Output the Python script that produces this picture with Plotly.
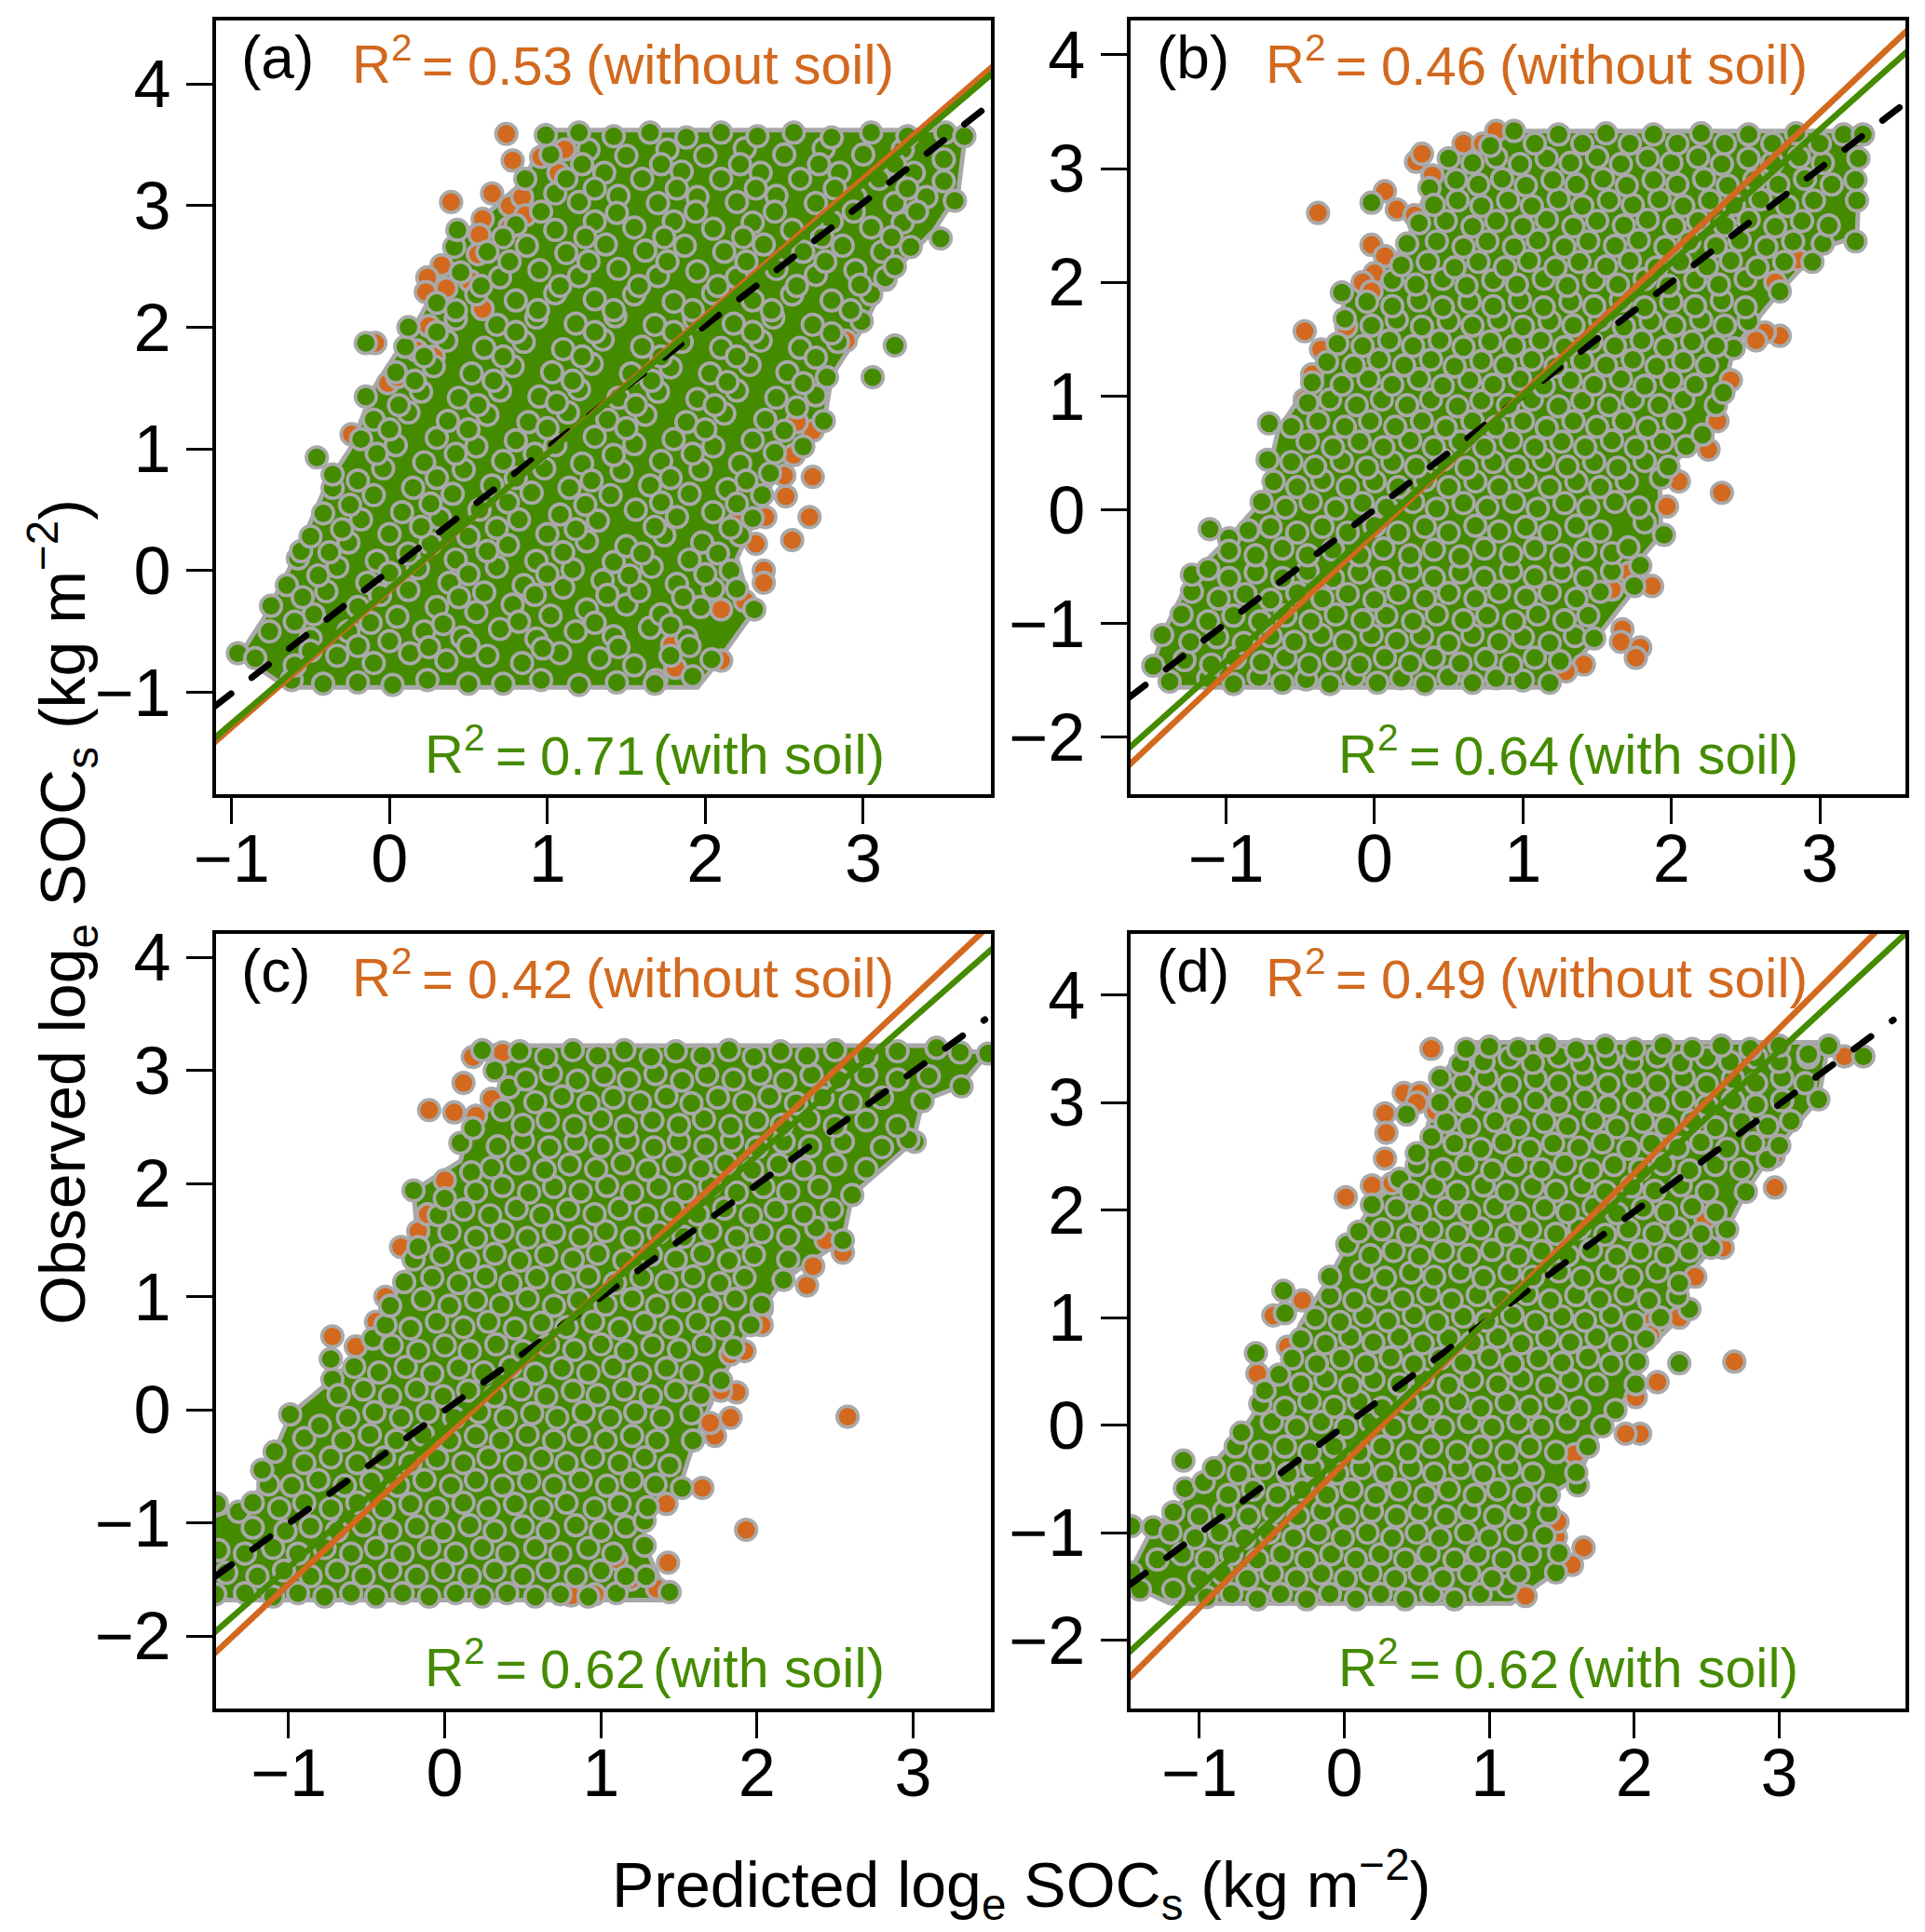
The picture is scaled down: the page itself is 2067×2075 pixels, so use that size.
import plotly.graph_objects as go

# ---------- values (predicted, observed) ----------
a_hull = [(-.65,-.96),(1.95,-.96),(2.05,-.8),(2.3,-.35),(2.2,.1),(2.45,.8),(2.75,1.2),(2.8,1.6),(3.0,2.0),(3.15,2.4),(3.45,2.8),(3.6,3.1),(3.65,3.62),(1.0,3.62),(.85,3.2),(.5,2.8),(.4,2.6),(.2,2.1),(-.1,1.5),(-.25,1.0),(-.4,.7),(-.6,.1),(-.8,-.4),(-.95,-.7)]
a_orange = [(.74,3.59),(.78,3.37),(.96,3.4),(1.11,3.46),(1.07,3.27),(.65,3.1),(.39,3.03),(.59,2.89),(.76,3.0),(.84,3.07),(.86,2.92),(.76,2.82),(.57,2.76),(.56,2.6),(.33,2.51),(.24,2.41),(.23,2.29),(.36,2.32),(.51,2.38),(.59,2.15),(.25,2.01),(-.09,1.87),(.17,1.81),(.28,1.76),(-.01,1.54),(.05,1.59),(-.24,1.12),(2.68,.77),(2.66,.44),(2.55,.25),(2.51,.61),(2.37,0),(2.37,-.1),(2.25,-.25),(2.32,.22),(2.38,.44),(2.5,.78),(2.56,.95),(2.68,1.15),(2.58,1.22),(2.1,-.74),(1.81,-.8),(1.69,-.9),(1.79,-.61),(2.89,1.89),(3.14,2.39),(2.1,-.32),(2.2,.39)]
a_green = [
(-.62,-.9),(-.42,-.93),(-.2,-.92),(.02,-.94),(.24,-.9),(.5,-.93),(.72,-.93),(.96,-.9),(1.2,-.94),(1.44,-.92),(1.68,-.93),(1.92,-.87),
(-.96,-.68),(-.85,-.72),(-.6,-.78),(-.33,-.7),(-.1,-.76),(.13,-.68),(.36,-.74),(.62,-.7),(.84,-.76),(1.08,-.68),(1.33,-.72),(1.55,-.78),(1.78,-.7),(2.04,-.73),
(-.76,-.5),(-.5,-.56),(-.26,-.5),(0,-.58),(.22,-.5),(.46,-.55),(.7,-.48),(.93,-.56),(1.18,-.5),(1.42,-.54),(1.65,-.47),(1.88,-.55),
(-.75,-.29),(-.48,-.36),(-.2,-.3),(.05,-.38),(.3,-.3),(.55,-.34),(.78,-.28),(1.02,-.37),(1.25,-.32),(1.5,-.28),(1.72,-.36),(1.97,-.3),(2.31,-.32),
(-.65,-.12),(-.4,-.17),(-.14,-.1),(.12,-.16),(.38,-.1),(.6,-.18),(.85,-.12),(1.1,-.14),(1.35,-.08),(1.58,-.17),(1.82,-.11),(2.05,-.15),
(-.58,.1),(-.33,.03),(-.08,.08),(.18,.02),(.42,.09),(.68,.03),(.93,.08),(1.16,.01),(1.42,.07),(1.66,.03),(1.9,.09),(2.16,0),
(-.56,.16),(-.5,.28),(-.26,.23),(0,.3),(.26,.22),(.5,.28),(.75,.21),(1.0,.3),(1.25,.24),(1.5,.2),(1.74,.29),(1.98,.23),(2.22,.29),
(-.42,.47),(-.18,.42),(.08,.48),(.32,.43),(.57,.5),(.82,.42),(1.08,.46),(1.32,.41),(1.56,.5),(1.82,.44),(2.05,.48),(2.3,.43),
(-.36,.68),(-.1,.62),(.15,.68),(.4,.63),(.65,.7),(.9,.64),(1.14,.68),(1.4,.62),(1.65,.7),(1.9,.63),(2.14,.67),(2.36,.62),
(-.46,.93),(-.36,.79),(-.04,.84),(.22,.89),(.47,.83),(.72,.9),(.98,.84),(1.22,.88),(1.47,.82),(1.72,.9),(1.97,.83),(2.22,.88),(2.41,.8),
(-.18,1.08),(.04,1.03),(.3,1.09),(.55,1.02),(.8,1.07),(1.05,1.03),(1.3,1.1),(1.55,1.04),(1.8,1.08),(2.05,1.02),(2.3,1.07),(2.62,1.02),
(-.1,1.24),(.12,1.3),(.37,1.23),(.62,1.28),(.88,1.22),(1.13,1.3),(1.38,1.24),(1.62,1.28),(1.88,1.22),(2.12,1.29),(2.38,1.24),(2.75,1.23),
(-.15,1.43),(.2,1.47),(.44,1.42),(.7,1.48),(.95,1.43),(1.2,1.49),(1.45,1.42),(1.7,1.47),(1.95,1.41),(2.2,1.48),(2.45,1.42),(2.7,1.44),
(.04,1.63),(.28,1.68),(.52,1.62),(.78,1.68),(1.03,1.63),(1.28,1.7),(1.53,1.62),(1.78,1.67),(2.03,1.62),(2.28,1.69),(2.52,1.63),(2.77,1.59),
(-.15,1.87),(.1,1.84),(.36,1.89),(.6,1.83),(.85,1.88),(1.1,1.82),(1.35,1.9),(1.6,1.84),(1.85,1.88),(2.1,1.83),(2.35,1.89),(2.6,1.83),(2.84,1.88),(3.2,1.85),(3.06,1.59),
(.12,2.0),(.42,2.07),(.68,2.02),(.93,2.08),(1.18,2.03),(1.43,2.09),(1.68,2.02),(1.93,2.07),(2.18,2.03),(2.43,2.08),(2.68,2.02),(2.99,2.05),
(.3,2.2),(.55,2.27),(.8,2.22),(1.05,2.28),(1.3,2.23),(1.55,2.27),(1.8,2.21),(2.05,2.28),(2.3,2.22),(2.55,2.27),(2.8,2.22),(3.05,2.27),
(.45,2.45),(.7,2.41),(.95,2.47),(1.2,2.42),(1.45,2.48),(1.7,2.42),(1.95,2.46),(2.2,2.41),(2.45,2.48),(2.7,2.43),(2.95,2.47),(3.14,2.41),
(.41,2.66),(.62,2.62),(.87,2.67),(1.12,2.61),(1.37,2.68),(1.62,2.63),(1.87,2.67),(2.12,2.62),(2.37,2.68),(2.62,2.62),(2.87,2.67),(3.12,2.62),(3.3,2.66),
(.43,2.8),(.8,2.84),(1.05,2.8),(1.3,2.87),(1.55,2.82),(1.8,2.87),(2.05,2.81),(2.3,2.86),(2.55,2.8),(2.8,2.87),(3.05,2.82),(3.25,2.86),(3.49,2.73),
(1.05,3.1),(1.2,3.03),(1.45,3.08),(1.7,3.02),(1.95,3.07),(2.2,3.03),(2.45,3.08),(2.7,3.02),(2.95,3.07),(3.2,3.02),(3.4,3.07),(3.58,3.04),
(.86,3.22),(1.12,3.22),(1.36,3.27),(1.6,3.22),(1.85,3.28),(2.1,3.22),(2.35,3.27),(2.6,3.22),(2.85,3.27),(3.1,3.22),(3.32,3.27),(3.51,3.2),
(1.02,3.42),(1.26,3.46),(1.5,3.41),(1.76,3.46),(2.0,3.41),(2.25,3.47),(2.5,3.42),(2.75,3.47),(3.0,3.42),(3.25,3.46),(3.51,3.38),
(.99,3.58),(1.2,3.6),(1.42,3.57),(1.65,3.6),(1.88,3.56),(2.1,3.6),(2.33,3.57),(2.56,3.6),(2.8,3.56),(3.05,3.6),(3.28,3.57),(3.52,3.6),(3.64,3.57)]
a_green_more = [
(-.5,-.66),(-.2,-.62),(.25,-.63),(.5,-.62),(.97,-.64),(1.45,-.63),(1.9,-.62),
(-.6,-.42),(-.12,-.43),(.34,-.44),(.82,-.42),(1.3,-.43),(1.78,-.45),
(-.55,-.22),(-.06,-.2),(.44,-.22),(.92,-.2),(1.38,-.2),(1.86,-.22),(2.2,-.15),
(-.45,-.04),(.0,-.02),(.5,-.03),(1.0,-.03),(1.52,-.04),(2.0,-.03),
(-.38,.15),(.12,.14),(.62,.16),(1.1,.15),(1.6,.14),(2.08,.14),
(-.3,.34),(.2,.36),(.68,.35),(1.18,.34),(1.68,.36),(2.16,.35),
(-.25,.54),(.26,.55),(.75,.56),(1.24,.54),(1.72,.56),(2.2,.55),
(-.2,.74),(.3,.76),(.8,.76),(1.28,.74),(1.78,.76),(2.26,.74),
(-.08,.96),(.42,.96),(.92,.96),(1.42,.95),(1.92,.96),(2.44,.97),
(.0,1.16),(.5,1.16),(1.0,1.17),(1.5,1.17),(2.0,1.16),(2.5,1.15),
(.06,1.36),(.56,1.36),(1.06,1.38),(1.56,1.36),(2.06,1.36),(2.58,1.34),
(.16,1.56),(.66,1.56),(1.16,1.56),(1.66,1.56),(2.14,1.55),(2.62,1.54),
(.22,1.76),(.72,1.76),(1.22,1.76),(1.72,1.76),(2.2,1.76),(2.7,1.75),
(.3,1.96),(.8,1.96),(1.3,1.96),(1.8,1.96),(2.3,1.96),(2.8,1.95),
(.42,2.14),(.94,2.14),(1.42,2.14),(1.92,2.14),(2.42,2.14),(2.92,2.14),
(.58,2.34),(1.08,2.34),(1.58,2.34),(2.08,2.34),(2.58,2.34),(2.98,2.35),
(.76,2.54),(1.26,2.54),(1.76,2.54),(2.26,2.54),(2.76,2.54),(3.2,2.5),
(.72,2.74),(1.24,2.74),(1.74,2.74),(2.24,2.74),(2.74,2.74),(3.18,2.74),
(.96,2.95),(1.44,2.94),(1.94,2.95),(2.44,2.95),(2.94,2.95),(3.34,2.95),
(1.3,3.14),(1.82,3.14),(2.32,3.14),(2.82,3.14),(3.28,3.14),
(1.22,3.34),(1.72,3.34),(2.22,3.34),(2.72,3.34),(3.2,3.34)]
a_orange_line = ([-1.11,3.82],[-1.415,4.146])
a_green_line = ([-1.11,3.82],[-1.38,4.09])
a_black_line = ([-1.11,3.82],[-1.12,3.85])

b_hull = [(-1.38,-1.56),(1.2,-1.56),(1.48,-1.15),(1.75,-.7),(1.78,-.45),(1.93,-.22),(1.92,.28),(2.2,.66),(2.35,1.03),(2.42,1.42),(2.73,1.92),(3.0,2.3),(3.25,2.4),(3.28,3.33),(.92,3.33),(.5,3.1),(.35,2.8),(.2,2.3),(-.2,1.9),(-.25,1.4),(-.42,1.15),(-.65,.7),(-.75,.1),(-.98,-.25),(-1.23,-.57),(-1.43,-1.1),(-1.49,-1.37)]
b_orange = [(2.73,1.53),(2.63,1.56),(2.57,1.49),(2.34,.15),(1.97,.03),(2.05,.25),(2.25,.53),(2.31,.78),(2.4,1.14),(1.87,-.67),(1.67,-1.05),(1.66,-1.16),(1.79,-1.21),(1.76,-1.3),(1.41,-1.36),(1.29,-1.42),(-.47,1.57),(-.38,2.61),(.07,2.8),(.28,3.06),(.15,2.64),(.27,2.59),(.6,3.22),(.73,3.22),(.82,3.33),(-.02,2.33),(.07,2.23),(0,2.08),(-.08,2),(-.02,1.92),(-.19,1.61),(-.36,1.41),(-.42,1.19),(-.47,.97),(.32,3.13),(.39,2.94),(2.7,2.0),(2.85,2.2),(1.72,-.55),(1.6,-.7)]
b_green = [
(-1.38,-1.51),(-1.12,-1.48),(-.95,-1.53),(-.78,-1.47),(-.62,-1.52),(-.46,-1.49),(-.3,-1.53),(-.14,-1.47),(.02,-1.52),(.18,-1.48),(.34,-1.53),(.5,-1.47),(.66,-1.52),(.82,-1.48),(1.0,-1.5),(1.18,-1.52),
(-1.49,-1.37),(-1.28,-1.32),(-1.1,-1.36),(-.94,-1.3),(-.76,-1.34),(-.6,-1.3),(-.44,-1.36),(-.27,-1.31),(-.1,-1.36),(.07,-1.3),(.24,-1.35),(.4,-1.3),(.58,-1.35),(.75,-1.31),(.92,-1.36),(1.08,-1.3),(1.25,-1.33),
(-1.43,-1.1),(-1.24,-1.16),(-1.06,-1.12),(-.88,-1.17),(-.7,-1.11),(-.54,-1.16),(-.36,-1.1),(-.2,-1.16),(-.02,-1.1),(.15,-1.15),(.32,-1.11),(.5,-1.17),(.66,-1.1),(.84,-1.16),(1.0,-1.12),(1.18,-1.17),(1.35,-1.11),(1.48,-1.13),
(-1.3,-.92),(-1.12,-.98),(-.95,-.93),(-.77,-.98),(-.6,-.93),(-.43,-.98),(-.26,-.92),(-.08,-.97),(.08,-.93),(.26,-.98),(.42,-.92),(.6,-.97),(.76,-.93),(.94,-.98),(1.1,-.92),(1.28,-.97),(1.44,-.93),
(-1.23,-.72),(-1.05,-.78),(-.87,-.74),(-.7,-.79),(-.52,-.73),(-.35,-.78),(-.18,-.74),(0,-.79),(.16,-.73),(.34,-.78),(.5,-.73),(.68,-.78),(.84,-.72),(1.02,-.77),(1.18,-.73),(1.36,-.78),(1.52,-.72),(1.75,-.67),
(-1.23,-.57),(-1.12,-.52),(-.98,-.6),(-.8,-.55),(-.62,-.6),(-.45,-.54),(-.28,-.6),(-.1,-.55),(.06,-.6),(.24,-.54),(.4,-.6),(.58,-.55),(.74,-.6),(.92,-.54),(1.08,-.59),(1.26,-.54),(1.42,-.6),(1.6,-.54),(1.79,-.49),
(-1.11,-.17),(-.98,-.25),(-.98,-.36),(-.8,-.4),(-.62,-.34),(-.45,-.4),(-.28,-.35),(-.1,-.4),(.06,-.34),(.24,-.4),(.4,-.35),(.58,-.41),(.74,-.34),(.92,-.39),(1.08,-.34),(1.26,-.4),(1.42,-.35),(1.6,-.38),(1.71,-.33),(1.95,-.22),
(-.85,-.18),(-.7,-.15),(-.52,-.2),(-.35,-.15),(-.18,-.2),(0,-.14),(.16,-.2),(.34,-.15),(.5,-.2),(.68,-.14),(.84,-.19),(1.02,-.15),(1.18,-.2),(1.36,-.14),(1.52,-.19),(1.82,-.11),
(-.76,.07),(-.6,.02),(-.43,.07),(-.26,.01),(-.08,.06),(.08,.02),(.26,.07),(.42,.01),(.6,.06),(.76,.02),(.94,.07),(1.1,.01),(1.28,.06),(1.44,.02),(1.62,.07),(1.78,.02),
(-.72,.44),(-.68,.25),(-.52,.2),(-.35,.26),(-.18,.2),(0,.25),(.16,.2),(.34,.26),(.5,.2),(.68,.25),(.84,.2),(1.02,.26),(1.18,.2),(1.36,.25),(1.52,.2),(1.7,.25),(1.93,.28),
(-.56,.42),(-.4,.38),(-.22,.43),(-.05,.37),(.12,.42),(.28,.38),(.46,.44),(.62,.37),(.8,.42),(.96,.38),(1.14,.44),(1.3,.38),(1.48,.42),(1.64,.37),(1.82,.43),(1.98,.38),
(-.71,.76),(-.56,.73),(-.45,.6),(-.28,.55),(-.1,.6),(.06,.55),(.24,.61),(.4,.55),(.58,.6),(.74,.55),(.92,.61),(1.08,.55),(1.26,.6),(1.42,.55),(1.6,.61),(1.76,.55),(1.94,.6),(2.1,.56),
(-.38,.78),(-.2,.73),(-.03,.78),(.14,.73),(.32,.78),(.48,.72),(.66,.78),(.82,.73),(1.0,.78),(1.16,.72),(1.34,.78),(1.5,.73),(1.68,.78),(1.84,.72),(2.02,.78),(2.21,.66),
(-.45,.94),(-.3,.97),(-.12,.92),(.05,.97),(.22,.92),(.38,.97),(.56,.91),(.72,.96),(.9,.92),(1.06,.97),(1.24,.91),(1.4,.96),(1.58,.92),(1.74,.97),(1.92,.92),(2.08,.97),(2.3,.92),
(-.42,1.12),(-.22,1.1),(-.04,1.15),(.12,1.1),(.3,1.15),(.46,1.09),(.64,1.14),(.8,1.1),(.98,1.15),(1.14,1.09),(1.32,1.14),(1.48,1.1),(1.66,1.15),(1.82,1.09),(2.0,1.14),(2.16,1.1),(2.35,1.03),
(-.32,1.3),(-.14,1.27),(.03,1.32),(.2,1.27),(.38,1.32),(.54,1.26),(.72,1.31),(.88,1.27),(1.06,1.32),(1.22,1.26),(1.4,1.31),(1.56,1.27),(1.74,1.32),(1.9,1.26),(2.08,1.31),(2.24,1.27),(2.42,1.42),
(-.25,1.46),(-.08,1.44),(.1,1.49),(.26,1.44),(.44,1.49),(.6,1.43),(.78,1.48),(.94,1.44),(1.12,1.49),(1.28,1.43),(1.46,1.48),(1.62,1.44),(1.8,1.49),(1.96,1.43),(2.14,1.48),(2.3,1.44),
(-.2,1.68),(-.02,1.62),(.15,1.67),(.32,1.61),(.5,1.66),(.66,1.62),(.84,1.67),(1.0,1.61),(1.18,1.66),(1.34,1.62),(1.52,1.67),(1.68,1.61),(1.86,1.66),(2.02,1.62),(2.2,1.67),(2.36,1.62),(2.52,1.66),
(-.22,1.91),(-.05,1.83),(.12,1.79),(.3,1.84),(.46,1.78),(.64,1.83),(.8,1.79),(.98,1.84),(1.14,1.78),(1.32,1.83),(1.48,1.79),(1.66,1.84),(1.82,1.78),(2.0,1.83),(2.16,1.79),(2.34,1.84),(2.5,1.78),(2.73,1.92),
(.12,2.02),(.28,1.98),(.46,2.03),(.62,1.97),(.8,2.02),(.96,1.98),(1.14,2.03),(1.3,1.97),(1.48,2.02),(1.64,1.98),(1.82,2.03),(1.98,1.97),(2.16,2.02),(2.32,1.98),(2.5,2.03),(2.95,2.18),
(.18,2.15),(.36,2.18),(.54,2.13),(.7,2.18),(.88,2.13),(1.04,2.19),(1.22,2.13),(1.38,2.18),(1.56,2.14),(1.72,2.19),(1.9,2.13),(2.06,2.18),(2.24,2.14),(2.4,2.19),(2.58,2.13),(2.76,2.18),
(.22,2.34),(.42,2.36),(.6,2.31),(.76,2.36),(.94,2.31),(1.1,2.37),(1.28,2.31),(1.44,2.36),(1.62,2.32),(1.78,2.37),(1.96,2.31),(2.12,2.36),(2.3,2.32),(2.46,2.37),(2.64,2.31),(2.82,2.36),(3.02,2.34),(3.24,2.36),
(.3,2.52),(.48,2.54),(.66,2.49),(.82,2.54),(1.0,2.49),(1.16,2.55),(1.34,2.49),(1.5,2.54),(1.68,2.5),(1.84,2.55),(2.02,2.49),(2.18,2.54),(2.36,2.5),(2.52,2.55),(2.7,2.49),(2.88,2.54),(3.06,2.5),
(-.02,2.7),(.37,2.83),(.4,2.68),(.56,2.72),(.72,2.67),(.9,2.72),(1.06,2.67),(1.24,2.73),(1.4,2.67),(1.58,2.72),(1.74,2.68),(1.92,2.73),(2.08,2.67),(2.26,2.72),(2.42,2.68),(2.6,2.73),(2.78,2.67),(2.96,2.72),(3.25,2.72),
(.55,2.9),(.7,2.86),(.86,2.91),(1.02,2.85),(1.2,2.9),(1.36,2.86),(1.54,2.91),(1.7,2.85),(1.88,2.9),(2.04,2.86),(2.22,2.91),(2.38,2.85),(2.56,2.9),(2.72,2.86),(2.9,2.91),(3.08,2.86),(3.24,2.9),
(.5,3.09),(.66,3.05),(.82,3.1),(.98,3.04),(1.16,3.09),(1.32,3.05),(1.5,3.1),(1.66,3.04),(1.84,3.09),(2.0,3.05),(2.18,3.1),(2.34,3.04),(2.52,3.09),(2.68,3.05),(2.86,3.1),(3.02,3.05),(3.26,3.09),
(.78,3.2),(.94,3.33),(1.08,3.22),(1.24,3.3),(1.4,3.22),(1.56,3.31),(1.72,3.22),(1.88,3.3),(2.04,3.22),(2.2,3.31),(2.36,3.22),(2.52,3.3),(2.68,3.22),(2.84,3.31),(3.0,3.22),(3.16,3.3),(3.29,3.3)]
b_orange_line = ([-1.658,3.589],[-2.25,4.215])
b_green_line = ([-1.658,3.589],[-2.10,4.03])
b_black_line = ([-1.658,3.589],[-1.654,3.59])

c_hull = [(-1.5,-1.68),(1.44,-1.68),(1.28,-1.2),(1.28,-.98),(1.5,-.7),(1.6,-.27),(1.77,.26),(1.96,.75),(2.17,1.15),(2.55,1.5),(2.61,1.9),(3.0,2.37),(3.06,2.73),(3.3,2.86),(3.48,3.15),(3.1,3.22),(.25,3.22),(.4,2.85),(.15,2.45),(.1,2.2),(-.2,1.94),(-.17,1.44),(-.35,.92),(-.46,.63),(-.72,.27),(-.99,-.04),(-1.09,-.37),(-1.23,-.82),(-1.5,-.95)]
c_orange = [(-.72,.65),(-.57,.56),(-.44,.78),(-.38,1.0),(-.28,1.44),(-.17,1.58),(-.11,1.73),(0,2.03),(-.1,2.65),(.06,2.63),(.12,2.89),(.18,3.12),(.37,3.16),(2.58,-.06),(1.93,-1.06),(1.43,-1.35),(1.65,-.69),(1.42,-.83),(1.73,-.23),(1.83,-.07),(1.7,-.115),(1.87,.155),(1.77,.17),(1.83,.49),(1.92,.52),(2.03,.89),(2.03,.75),(2.32,1.1),(2.36,1.27),(2.55,1.39),(2.44,1.5),(1.36,-1.58),(1.19,-1.5),(1.1,-1.32),(.96,-1.63),(.81,-1.64),(.2,2.6),(.3,2.75)]
c_green = [
(-1.47,-1.63),(-1.28,-1.62),(-1.1,-1.65),(-.94,-1.62),(-.77,-1.65),(-.6,-1.62),(-.44,-1.65),(-.27,-1.62),(-.1,-1.65),(.07,-1.62),(.24,-1.65),(.4,-1.62),(.58,-1.65),(.74,-1.63),(.92,-1.65),(1.1,-1.62),(1.44,-1.61),
(-1.4,-1.44),(-1.2,-1.47),(-1.03,-1.42),(-.86,-1.47),(-.69,-1.42),(-.52,-1.47),(-.35,-1.42),(-.18,-1.47),(-.01,-1.42),(.16,-1.47),(.32,-1.42),(.5,-1.47),(.66,-1.42),(.84,-1.47),(1.0,-1.42),(1.16,-1.47),(1.29,-1.47),
(-1.45,-1.24),(-1.28,-1.27),(-1.1,-1.22),(-.94,-1.27),(-.77,-1.22),(-.6,-1.27),(-.44,-1.22),(-.27,-1.27),(-.1,-1.22),(.07,-1.27),(.24,-1.22),(.4,-1.27),(.58,-1.22),(.74,-1.27),(.92,-1.22),(1.08,-1.27),(1.28,-1.2),
(-1.32,-.9),(-1.23,-1.04),(-1.02,-1.07),(-.86,-1.03),(-.69,-1.07),(-.52,-1.02),(-.35,-1.07),(-.18,-1.03),(-.01,-1.07),(.16,-1.02),(.32,-1.07),(.5,-1.03),(.66,-1.07),(.84,-1.02),(1.0,-1.07),(1.16,-1.03),(1.28,-.98),
(-1.46,-.83),(-1.23,-.82),(-1.06,-.87),(-.9,-.82),(-.73,-.87),(-.56,-.82),(-.39,-.87),(-.22,-.83),(-.05,-.87),(.12,-.82),(.28,-.87),(.45,-.83),(.62,-.87),(.78,-.82),(.96,-.87),(1.12,-.83),(1.3,-.86),
(-1.13,-.66),(-.98,-.67),(-.81,-.62),(-.64,-.67),(-.47,-.63),(-.3,-.67),(-.13,-.62),(.04,-.67),(.2,-.62),(.37,-.67),(.54,-.63),(.7,-.67),(.87,-.62),(1.04,-.67),(1.2,-.62),(1.35,-.66),(1.52,-.69),
(-1.17,-.53),(-1.09,-.37),(-.9,-.47),(-.73,-.42),(-.56,-.47),(-.39,-.42),(-.22,-.47),(-.05,-.43),(.12,-.47),(.28,-.42),(.45,-.47),(.62,-.43),(.78,-.47),(.95,-.42),(1.12,-.47),(1.28,-.42),(1.44,-.49),
(-.9,-.25),(-.8,-.14),(-.65,-.27),(-.48,-.22),(-.31,-.27),(-.14,-.22),(.03,-.27),(.2,-.23),(.36,-.27),(.53,-.22),(.7,-.27),(.86,-.22),(1.03,-.27),(1.2,-.23),(1.36,-.27),(1.59,-.27),
(-.99,-.04),(-.62,-.07),(-.45,-.02),(-.28,-.07),(-.11,-.02),(.06,-.07),(.22,-.02),(.39,-.07),(.56,-.03),(.72,-.07),(.89,-.02),(1.06,-.07),(1.22,-.02),(1.39,-.07),(1.58,-.03),
(-.72,.27),(-.68,.13),(-.52,.18),(-.35,.12),(-.18,.18),(-.01,.12),(.15,.17),(.32,.12),(.49,.18),(.65,.12),(.82,.17),(.98,.13),(1.15,.18),(1.32,.12),(1.48,.17),(1.64,.13),
(-.73,.45),(-.58,.38),(-.42,.33),(-.25,.38),(-.08,.32),(.09,.37),(.25,.33),(.42,.38),(.58,.32),(.75,.37),(.92,.33),(1.08,.38),(1.25,.32),(1.42,.37),(1.58,.33),(1.77,.26),
(-.46,.63),(-.34,.57),(-.17,.52),(0,.57),(.16,.52),(.33,.58),(.5,.52),(.66,.57),(.83,.53),(1.0,.58),(1.16,.52),(1.33,.57),(1.5,.53),(1.66,.58),(1.85,.55),
(-.38,.75),(-.22,.72),(-.05,.78),(.12,.73),(.28,.78),(.45,.72),(.62,.77),(.78,.73),(.95,.78),(1.12,.72),(1.28,.77),(1.45,.73),(1.62,.78),(1.78,.72),(1.96,.75),
(-.35,.92),(-.14,.98),(.03,.92),(.2,.97),(.36,.93),(.53,.98),(.7,.92),(.86,.97),(1.03,.93),(1.2,.98),(1.36,.92),(1.53,.97),(1.7,.93),(1.86,.98),(2.03,.93),
(-.26,1.13),(-.08,1.17),(.09,1.12),(.26,1.18),(.42,1.12),(.59,1.17),(.76,1.13),(.92,1.18),(1.09,1.12),(1.26,1.17),(1.42,1.13),(1.59,1.18),(1.76,1.12),(1.92,1.17),(2.17,1.15),
(-.2,1.33),(-.02,1.37),(.15,1.32),(.32,1.38),(.48,1.32),(.65,1.37),(.82,1.33),(.98,1.38),(1.15,1.32),(1.32,1.37),(1.48,1.33),(1.65,1.38),(1.82,1.32),(1.98,1.37),(2.2,1.33),
(-.17,1.44),(.03,1.57),(.2,1.52),(.37,1.58),(.53,1.52),(.7,1.57),(.87,1.53),(1.03,1.58),(1.2,1.52),(1.37,1.57),(1.53,1.53),(1.7,1.58),(1.87,1.52),(2.03,1.57),(2.2,1.53),(2.38,1.61),(2.55,1.5),
(-.04,1.72),(.12,1.77),(.29,1.72),(.46,1.78),(.62,1.72),(.79,1.77),(.96,1.73),(1.12,1.78),(1.29,1.72),(1.46,1.77),(1.62,1.73),(1.79,1.78),(1.96,1.72),(2.12,1.77),(2.3,1.73),(2.48,1.77),
(-.2,1.94),(0,1.87),(.17,2.1),(.2,1.93),(.37,1.98),(.54,1.92),(.7,1.97),(.87,1.93),(1.04,1.98),(1.2,1.92),(1.37,1.97),(1.54,1.93),(1.7,1.98),(1.87,1.92),(2.04,1.97),(2.2,1.93),(2.4,1.97),(2.61,1.9),
(.3,2.14),(.47,2.18),(.64,2.12),(.8,2.17),(.97,2.13),(1.14,2.18),(1.3,2.12),(1.47,2.17),(1.64,2.13),(1.8,2.18),(1.97,2.12),(2.14,2.17),(2.3,2.13),(2.5,2.17),(2.7,2.13),
(.1,2.36),(.18,2.49),(.34,2.33),(.5,2.38),(.67,2.32),(.84,2.37),(1.0,2.33),(1.17,2.38),(1.34,2.32),(1.5,2.37),(1.67,2.33),(1.84,2.38),(2.0,2.32),(2.17,2.37),(2.34,2.33),(2.55,2.37),(2.8,2.32),(3.01,2.37),(2.97,2.39),
(.37,2.65),(.5,2.52),(.66,2.56),(.83,2.51),(1.0,2.57),(1.16,2.51),(1.33,2.56),(1.5,2.52),(1.66,2.57),(1.83,2.51),(2.0,2.56),(2.16,2.52),(2.33,2.57),(2.5,2.51),(2.7,2.56),(2.9,2.51),
(.41,2.85),(.58,2.72),(.75,2.77),(.92,2.71),(1.08,2.76),(1.25,2.72),(1.42,2.77),(1.58,2.71),(1.75,2.76),(1.92,2.72),(2.08,2.77),(2.25,2.71),(2.42,2.76),(2.6,2.72),(2.8,2.76),(3.06,2.73),
(.32,3.0),(.52,2.92),(.68,2.97),(.85,2.91),(1.02,2.96),(1.18,2.92),(1.35,2.97),(1.52,2.91),(1.68,2.96),(1.85,2.92),(2.02,2.97),(2.18,2.91),(2.35,2.96),(2.52,2.92),(2.7,2.96),(2.9,2.92),(3.1,2.95),(3.31,2.86),
(.24,3.18),(.48,3.17),(.65,3.12),(.82,3.18),(.98,3.13),(1.15,3.18),(1.32,3.12),(1.48,3.17),(1.65,3.13),(1.82,3.18),(1.98,3.12),(2.15,3.17),(2.32,3.13),(2.5,3.18),(2.7,3.13),(2.9,3.17),(3.15,3.2),(3.3,3.16),(3.48,3.15)]
c_orange_line = ([-1.477,3.51],[-2.156,4.31])
c_green_line = ([-1.477,3.51],[-1.97,4.08])
c_black_line = ([-1.477,3.46],[-1.478,3.45])

d_hull = [(-1.2,-1.66),(1.15,-1.66),(1.46,-1.37),(1.48,-1.15),(1.41,-.65),(1.6,-.5),(1.78,-.01),(2.02,.38),(2.05,.65),(2.35,1.05),(2.35,1.35),(2.64,1.82),(2.77,2.17),(2.92,2.47),(3.27,3.03),(3.34,3.56),(.85,3.56),(.66,3.23),(.55,2.65),(.38,2.29),(.19,2.05),(.02,1.68),(-.1,1.38),(-.3,.95),(-.45,.47),(-.71,-.07),(-1.0,-.5),(-1.18,-.81),(-1.32,-.95),(-1.48,-1.37),(-1.41,-1.53)]
d_orange = [(.6,3.5),(.41,3.09),(.52,3.09),(.63,2.92),(.28,2.9),(.29,2.72),(.28,2.48),(.19,2.23),(.01,2.12),(-.29,1.16),(-.49,1.02),(-.39,.73),(-.6,.48),(2.69,.59),(2.16,.4),(2.01,.26),(2.04,-.08),(1.94,-.08),(2.31,1.0),(2.13,.97),(2.11,.84),(2.61,1.65),(2.42,1.38),(2.49,1.92),(2.97,2.21),(2.96,2.5),(3.45,3.43),(1.65,-1.14),(1.57,-1.3),(1.25,-1.59),(1.46,-1.04),(1.47,-.9),(1.59,-.27),(.33,2.25),(.5,3.0)]
d_green = [
(-.95,-1.6),(-.78,-1.57),(-.6,-1.62),(-.44,-1.57),(-.26,-1.62),(-.1,-1.57),(.08,-1.62),(.25,-1.57),(.42,-1.62),(.6,-1.57),(.76,-1.62),(.94,-1.57),(1.13,-1.5),
(-1.41,-1.53),(-1.18,-1.53),(-1.0,-1.42),(-.84,-1.38),(-.67,-1.43),(-.5,-1.38),(-.33,-1.43),(-.16,-1.38),(.01,-1.43),(.18,-1.38),(.35,-1.43),(.52,-1.38),(.68,-1.43),(.86,-1.38),(1.02,-1.43),(1.2,-1.38),(1.46,-1.37),
(-1.47,-1.37),(-1.29,-1.25),(-1.12,-1.2),(-.95,-1.25),(-.78,-1.2),(-.6,-1.25),(-.43,-1.2),(-.26,-1.25),(-.09,-1.2),(.08,-1.25),(.25,-1.2),(.42,-1.25),(.58,-1.2),(.76,-1.25),(.92,-1.2),(1.1,-1.25),(1.28,-1.2),(1.48,-1.19),
(-1.32,-.95),(-1.2,-1.0),(-1.03,-1.05),(-.86,-1.0),(-.69,-1.05),(-.52,-1.0),(-.35,-1.05),(-.18,-1.0),(-.01,-1.05),(.16,-1.0),(.33,-1.05),(.5,-1.0),(.66,-1.05),(.84,-1.0),(1.0,-1.05),(1.18,-1.0),(1.38,-1.03),
(-1.47,-.94),(-1.18,-.81),(-1.0,-.85),(-.83,-.8),(-.66,-.85),(-.49,-.8),(-.32,-.85),(-.15,-.8),(.02,-.85),(.19,-.8),(.36,-.85),(.52,-.8),(.7,-.85),(.86,-.8),(1.04,-.85),(1.2,-.8),(1.41,-.82),
(-1.1,-.59),(-.97,-.53),(-.8,-.65),(-.63,-.6),(-.46,-.65),(-.29,-.6),(-.12,-.65),(.05,-.6),(.22,-.65),(.38,-.6),(.56,-.65),(.72,-.6),(.9,-.65),(1.06,-.6),(1.24,-.65),(1.41,-.65),
(-1.11,-.33),(-.9,-.4),(-.73,-.45),(-.56,-.4),(-.39,-.45),(-.22,-.4),(-.05,-.45),(.12,-.4),(.28,-.45),(.46,-.4),(.62,-.45),(.8,-.4),(.96,-.45),(1.14,-.4),(1.3,-.45),(1.61,-.56),(1.6,-.44),
(-.75,-.2),(-.58,-.25),(-.41,-.2),(-.24,-.25),(-.07,-.2),(.1,-.25),(.26,-.2),(.44,-.25),(.6,-.2),(.78,-.25),(.94,-.2),(1.12,-.25),(1.28,-.2),(1.46,-.25),(1.68,-.2),
(-.71,-.07),(-.5,.03),(-.33,-.02),(-.16,.03),(.01,-.02),(.18,.03),(.34,-.02),(.52,.03),(.68,-.02),(.86,.03),(1.02,-.02),(1.2,.03),(1.36,-.02),(1.54,.03),(1.78,-.01),
(-.58,.2),(-.41,.16),(-.24,.22),(-.07,.17),(.1,.22),(.26,.16),(.44,.21),(.6,.17),(.78,.22),(.94,.16),(1.12,.21),(1.28,.17),(1.46,.22),(1.62,.16),(1.87,.14),
(-.55,.32),(-.45,.47),(-.3,.38),(-.13,.43),(.04,.37),(.2,.42),(.38,.38),(.54,.43),(.72,.37),(.88,.42),(1.06,.38),(1.22,.43),(1.4,.37),(1.56,.42),(1.74,.38),(2.01,.38),
(-.61,.67),(-.36,.62),(-.19,.57),(-.02,.62),(.15,.57),(.32,.63),(.48,.57),(.66,.62),(.82,.58),(1.0,.63),(1.16,.57),(1.34,.62),(1.5,.58),(1.68,.63),(1.84,.57),(2.02,.59),(2.31,.575),
(-.3,.8),(-.13,.76),(.04,.82),(.2,.77),(.38,.82),(.54,.76),(.72,.81),(.88,.77),(1.06,.82),(1.22,.76),(1.4,.81),(1.56,.77),(1.74,.82),(1.9,.76),(2.08,.8),
(-.41,1.04),(-.42,1.25),(-.2,1.0),(-.03,.96),(.14,1.02),(.3,.97),(.48,1.02),(.64,.96),(.82,1.01),(.98,.97),(1.16,1.02),(1.32,.96),(1.5,1.01),(1.66,.97),(1.84,1.02),(2.0,.96),(2.18,1.0),(2.38,1.08),
(-.1,1.2),(.07,1.16),(.24,1.22),(.4,1.17),(.58,1.22),(.74,1.16),(.92,1.21),(1.08,1.17),(1.26,1.22),(1.42,1.16),(1.6,1.21),(1.76,1.17),(1.94,1.22),(2.1,1.16),(2.3,1.2),
(-.1,1.38),(.12,1.43),(.28,1.37),(.46,1.42),(.62,1.38),(.8,1.43),(.96,1.37),(1.14,1.42),(1.3,1.38),(1.48,1.43),(1.64,1.37),(1.82,1.42),(1.98,1.38),(2.16,1.43),(2.31,1.32),
(.02,1.68),(.18,1.58),(.34,1.62),(.52,1.57),(.68,1.62),(.86,1.58),(1.02,1.63),(1.2,1.57),(1.36,1.62),(1.54,1.58),(1.7,1.63),(1.88,1.57),(2.04,1.62),(2.22,1.58),(2.38,1.62),(2.53,1.65),
(.1,1.8),(.26,1.82),(.44,1.77),(.6,1.82),(.78,1.78),(.94,1.83),(1.12,1.77),(1.28,1.82),(1.46,1.78),(1.62,1.83),(1.8,1.77),(1.96,1.82),(2.14,1.78),(2.3,1.83),(2.46,1.78),(2.64,1.82),
(.19,2.05),(.36,2.02),(.52,1.97),(.7,2.02),(.86,1.98),(1.04,2.03),(1.2,1.97),(1.38,2.02),(1.54,1.98),(1.72,2.03),(1.88,1.97),(2.06,2.02),(2.22,1.98),(2.4,2.03),(2.56,1.98),
(.38,2.29),(.46,2.17),(.62,2.22),(.78,2.17),(.96,2.23),(1.12,2.17),(1.3,2.22),(1.46,2.18),(1.64,2.23),(1.8,2.17),(1.98,2.22),(2.14,2.18),(2.32,2.23),(2.5,2.17),(2.77,2.17),
(.5,2.42),(.68,2.38),(.84,2.43),(1.02,2.37),(1.18,2.42),(1.36,2.38),(1.52,2.43),(1.7,2.37),(1.86,2.42),(2.04,2.38),(2.2,2.43),(2.38,2.37),(2.56,2.42),(2.74,2.38),(2.92,2.47),
(.5,2.53),(.6,2.68),(.76,2.62),(.94,2.57),(1.1,2.63),(1.28,2.57),(1.44,2.62),(1.62,2.58),(1.78,2.63),(1.96,2.57),(2.12,2.62),(2.3,2.58),(2.46,2.63),(2.64,2.57),(2.82,2.62),(3.0,2.6),
(.43,2.89),(.7,2.82),(.86,2.78),(1.04,2.83),(1.2,2.77),(1.38,2.82),(1.54,2.78),(1.72,2.83),(1.88,2.77),(2.06,2.82),(2.22,2.78),(2.4,2.83),(2.56,2.77),(2.74,2.82),(2.92,2.78),(3.08,2.83),
(.66,3.0),(.82,2.98),(.98,3.03),(1.14,2.97),(1.32,3.02),(1.48,2.98),(1.66,3.03),(1.82,2.97),(2.0,3.02),(2.16,2.98),(2.34,3.03),(2.5,2.97),(2.68,3.02),(2.84,2.98),(3.02,3.02),(3.27,3.03),
(.66,3.23),(.82,3.18),(.98,3.23),(1.14,3.17),(1.32,3.22),(1.48,3.18),(1.66,3.23),(1.82,3.17),(2.0,3.22),(2.16,3.18),(2.34,3.23),(2.5,3.17),(2.68,3.22),(2.84,3.18),(3.02,3.23),(3.18,3.18),
(.8,3.36),(.96,3.38),(1.14,3.42),(1.3,3.37),(1.48,3.43),(1.64,3.37),(1.82,3.42),(1.98,3.38),(2.16,3.43),(2.32,3.37),(2.5,3.42),(2.66,3.38),(2.84,3.42),(3.0,3.38),(3.2,3.42),
(.84,3.5),(1.0,3.52),(1.2,3.5),(1.4,3.53),(1.6,3.49),(1.8,3.53),(2.0,3.5),(2.2,3.53),(2.4,3.5),(2.6,3.53),(2.8,3.5),(3.0,3.53),(3.2,3.45),(3.34,3.53),(3.58,3.43)]
d_orange_line = ([-1.49,3.883],[-2.36,4.88])
d_green_line = ([-1.49,3.883],[-2.12,4.587])
d_black_line = ([-1.49,3.787],[-1.495,3.77])

tick_values = [-1, 0, 1, 2, 3]
panel_letters = ["(a)", "(b)", "(c)", "(d)"]
r2_without = ["0.53", "0.46", "0.42", "0.49"]
r2_with = ["0.71", "0.64", "0.62", "0.62"]

# ---------- styling / layout ----------
W, H = 2067, 2075
ORANGE, GREEN, GREY = "#D2691E", "#458B00", "#A9A9A9"
FONT = "Liberation Sans, Arial, sans-serif"
frames = [(232, 1064, 22, 853), (1213.6, 2046, 22, 853), (232, 1064, 1003, 1835), (1213.6, 2046, 1003, 1835)]
xranges = [(-1.11, 3.82), (-1.658, 3.589), (-1.477, 3.51), (-1.49, 3.883)]
yranges = [(-1.854, 4.537), (-2.516, 4.318), (-2.656, 4.224), (-2.654, 4.587)]
y_ticks = [[-1,0,1,2,3,4], [-2,-1,0,1,2,3,4], [-2,-1,0,1,2,3,4], [-2,-1,0,1,2,3,4]]
hulls = [a_hull, b_hull, c_hull, d_hull]
oranges = [a_orange, b_orange, c_orange, d_orange]
greens = [a_green + a_green_more, b_green, c_green, d_green]
o_lines = [a_orange_line, b_orange_line, c_orange_line, d_orange_line]
g_lines = [a_green_line, b_green_line, c_green_line, d_green_line]
k_lines = [a_black_line, b_black_line, c_black_line, d_black_line]

fig = go.Figure()
layout = dict(width=W, height=H, margin=dict(l=0, r=0, t=0, b=0, autoexpand=False), paper_bgcolor="white",
              plot_bgcolor="white", showlegend=False, font=dict(family=FONT, color="black"), hovermode=False)

def unzip(pts):
    return [p[0] for p in pts], [p[1] for p in pts]

def trim(rng, span):
    lo, hi = rng
    d = (hi - lo) * 2 / (span + 4)
    return [lo + d, hi - d]

for i in range(4):
    sx = "" if i == 0 else str(i + 1)
    xa, ya = "x" + sx, "y" + sx
    l, r, t, b = frames[i]
    common = dict(showgrid=False, zeroline=False, showline=True, mirror=True, linecolor="black", linewidth=4,
                  ticks="outside", ticklen=28, tickwidth=3, tickcolor="black", automargin=False,
                  tickfont=dict(size=72, family=FONT, color="black"))
    layout["xaxis" + sx] = dict(common, domain=[l / W, r / W], range=trim(xranges[i], r - l), tickvals=tick_values,
                                anchor=ya, ticklabelstandoff=-24)
    layout["yaxis" + sx] = dict(common, domain=[1 - b / H, 1 - t / H], range=trim(yranges[i], b - t), tickvals=y_ticks[i],
                                anchor=xa, tickangle=0, ticklabelstandoff=2)
    hx, hy = unzip(hulls[i])
    # dense interior of the cloud: overlapping dots read as green with grey rings
    fig.add_trace(go.Scatter(x=hx + hx[:1], y=hy + hy[:1], xaxis=xa, yaxis=ya, mode="lines", fill="toself",
                             fillcolor=GREEN, line=dict(color=GREY, width=5)))
    for pts, col in ((oranges[i], ORANGE), (greens[i], GREEN)):
        px_, py_ = unzip(pts)
        fig.add_trace(go.Scatter(x=px_, y=py_, xaxis=xa, yaxis=ya, mode="markers",
                                 marker=dict(size=22.5, color=col, line=dict(color=GREY, width=3.7))))
    fig.add_trace(go.Scatter(x=k_lines[i][0], y=k_lines[i][1], xaxis=xa, yaxis=ya, mode="lines",
                             line=dict(color="black", width=7, dash="23px,28px")))
    fig.add_trace(go.Scatter(x=o_lines[i][0], y=o_lines[i][1], xaxis=xa, yaxis=ya, mode="lines",
                             line=dict(color=ORANGE, width=6.5)))
    fig.add_trace(go.Scatter(x=g_lines[i][0], y=g_lines[i][1], xaxis=xa, yaxis=ya, mode="lines",
                             line=dict(color=GREEN, width=6.5)))

ann = []
def label(px, py, text, size, color="black", anchor="left", angle=0):
    ann.append(dict(xref="paper", yref="paper", x=px / W, y=1 - py / H, text=text, showarrow=False,
                    xanchor=anchor, yanchor="middle", textangle=angle,
                    font=dict(size=size, color=color, family=FONT)))

for i in range(4):
    dx = 0 if i % 2 == 0 else 981
    dy = 0 if i < 2 else 981
    label(257 + dx + (2 if dx else 0), 62 + dy, panel_letters[i], 64)
    label(376 + dx, 64 + dy, "R<sup>2</sup>", 58, ORANGE)
    label(451 + dx, 70 + dy, "=", 58, ORANGE)
    label(500 + dx, 70 + dy, r2_without[i], 58, ORANGE)
    label(627 + dx, 70 + dy, "(without soil)", 59, ORANGE)
    label(454 + dx, 805 + dy, "R<sup>2</sup>", 58, GREEN)
    label(530 + dx, 811 + dy, "=", 58, GREEN)
    label(578 + dx, 811 + dy, r2_with[i], 58, GREEN)
    label(699 + dx, 811 + dy, "(with soil)", 59, GREEN)

label(1096, 2024, "Predicted log<sub>e</sub> SOC<sub>s</sub> (kg m<sup>\u22122</sup>)", 68, anchor="center")
label(67, 980, "Observed log<sub>e</sub> SOC<sub>s</sub> (kg m<sup>\u22122</sup>)", 68, anchor="center", angle=-90)
layout["annotations"] = ann
fig.update_layout(**layout)
fig.write_html("out.html", config={"displayModeBar": False},
               post_script="document.body.style.margin='0';document.querySelectorAll('.scatterlayer .js-line').forEach(function(e){if(e.style.stroke==='rgb(0, 0, 0)'){e.style.strokeLinecap='round';}});")
